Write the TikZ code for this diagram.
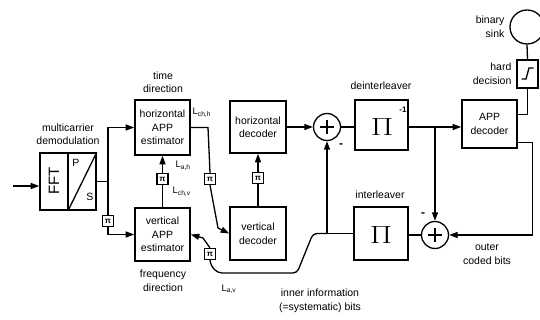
\documentclass[tikz,border=0pt]{standalone}
\usepackage{fontspec}
\setmainfont{Liberation Sans}
\usetikzlibrary{arrows.meta}
\begin{document}
\begin{tikzpicture}[x=1pt,y=-1pt,
  line width=1.3pt,
  every node/.style={font=\fontsize{10.5}{13.5}\selectfont, inner sep=0pt},
  blk/.style={draw, line width=1.6pt, align=center},
  pib/.style={draw, line width=1.3pt, minimum size=11pt, font=\fontsize{8}{8}\selectfont\bfseries},
  sum/.style={draw, circle, line width=1.3pt, minimum size=27pt},
  arr/.style={-{Triangle[length=8.5pt,width=6pt]}},
  lbl/.style={align=center},
  sub/.style={anchor=west, font=\fontsize{9.5}{9.5}\selectfont},
  bigpi/.style={font=\fontsize{30}{30}\selectfont}
]
\useasboundingbox (0,0) rectangle (540,320);

% blocks
\node[blk, minimum width=56pt, minimum height=57pt] (fft) at (68,181.5) {};
\node[rotate=90, font=\fontsize{15}{15}\selectfont] (fftl) at (54,181) {FFT};
\node (fftp) at (76,163) {P};
\node (ffts) at (90,197) {S};
\draw[line width=1.6pt] (fft.north) -- (fft.south);
\draw (fft.south) -- (fft.north east);
\node[lbl] (mcd) at (68,134) {multicarrier\\demodulation};

\node[blk, minimum width=55pt, minimum height=55pt] (happ) at (162.5,127.5) {horizontal\\APP\\estimator};
\node[blk, minimum width=55pt, minimum height=53pt] (vapp) at (162.5,234.5) {vertical\\APP\\estimator};
\node[lbl] (tdir) at (163,82) {time\\direction};
\node[lbl] (fdir) at (163,281) {frequency\\direction};

\node[blk, minimum width=56pt, minimum height=52pt] (hdec) at (258,127) {horizontal\\decoder};
\node[blk, minimum width=56pt, minimum height=53pt] (vdec) at (258,233.5) {vertical\\decoder};

\node[sum] (s1) at (327,127) {};
\node[sum] (s2) at (435,235) {};
\draw (s1.center) +(-7,0) -- +(7,0);
\draw (s1.center) +(0,-7) -- +(0,7);
\draw (s2.center) +(-7,0) -- +(7,0);
\draw (s2.center) +(0,-7) -- +(0,7);
\node[font=\fontsize{12}{12}\selectfont\bfseries] (m1) at (341,146) {-};
\node[font=\fontsize{12}{12}\selectfont\bfseries] (m2) at (423,215) {-};

\node[blk, minimum width=53pt, minimum height=50pt] (deint) at (381.5,125) {};
\node[bigpi] (deintpi) at (382,127) {\scalebox{1.3}[1]{$\Pi$}};
\node[font=\fontsize{8}{8}\selectfont\bfseries] (deintm) at (403,110) {-1};
\node[lbl] (deintl) at (381,86) {deinterleaver};

\node[blk, minimum width=54pt, minimum height=53pt] (intl) at (381,233.5) {};
\node[bigpi] (intlpi) at (381,235) {\scalebox{1.3}[1]{$\Pi$}};
\node[lbl] (intll) at (380,195) {interleaver};

\node[blk, minimum width=55pt, minimum height=48pt] (appd) at (489.5,124) {APP\\decoder};
\node[blk, minimum width=21pt, minimum height=28pt] (hard) at (527.5,74) {};
\draw (hard.center) +(-6,5) -- +(-1.5,5) -- +(1.5,-6) -- +(6,-6);
\node[draw, circle, line width=1.3pt, minimum size=34pt] (sink) at (527,27) {};
\node[align=right, anchor=east] (sinkl) at (505,27) {binary\\sink};
\node[align=right, anchor=east] (hardl) at (512,74) {hard\\decision};

% pi boxes
\node[pib] (pi1) at (108,221) {π};
\node[pib] (pi2) at (162.5,179) {π};
\node[pib] (pi3) at (210,179) {π};
\node[pib] (pi4) at (258,178) {π};
\node[pib] (pi5) at (210,254) {π};

% labels
\node[sub] (lchh) at (192,113) {L\textsubscript{ch,h}};
\node[sub] (lah) at (175,166) {L\textsubscript{a,h}};
\node[sub] (lchv) at (172,192) {L\textsubscript{ch,v}};
\node[sub] (lav) at (221,289) {L\textsubscript{a,v}};
\node[lbl] (innl) at (320,301) {inner information\\(=systematic) bits};
\node[lbl] (outl) at (487,254) {outer\\coded bits};

% connectors
\coordinate (in) at (13,186);
\draw[arr] (in) -- (in -| fft.west);
\draw[arr] (fft.east) -- (fft.east -| pi1) |- (happ.west);
\draw (fft.east -| pi1) -- (pi1.north);
\draw[arr] (pi1.south) |- (vapp.west);
\draw (vapp.north) -- (pi2.south);
\draw[arr] (pi2.north) -- (happ.south);
\draw (happ.east) -- (208,127.5) -- (pi3.north);
\draw[arr] (pi3.south) -- (218,228) -- (vdec.west);
\draw (vdec.north) -- (pi4.south);
\draw[arr] (pi4.north) -- (hdec.south);
\draw[arr] (hdec.east) -- (s1.west);
\draw (s1.east) -- (s1.east -| deint.west);
\draw[arr] (s1.east -| deint.east) -- (s1.east -| appd.west);
\draw[arr] (s1.east -| s2) -- (s2.north);
\draw ([yshift=-15pt]appd.north east) -| (hard.south);
\draw (hard.north) -- (sink.south);
\draw[arr] ([yshift=6pt]appd.south east) -- ++(15,0) |- (s2.east);
\draw (s2.west) -- (s2.west -| intl.east);
\draw[arr] (intl.west) -- (intl.west -| s1) -- (s1.south);
\draw[rounded corners=4pt] (intl.west -| s1) -- (313,233.5) -- (297,273) -- (218,273) -- (211,266) -- (pi5.south);
\draw[arr] (pi5.north) -- (203,238) -- (vapp.east);
\end{tikzpicture}
\end{document}
